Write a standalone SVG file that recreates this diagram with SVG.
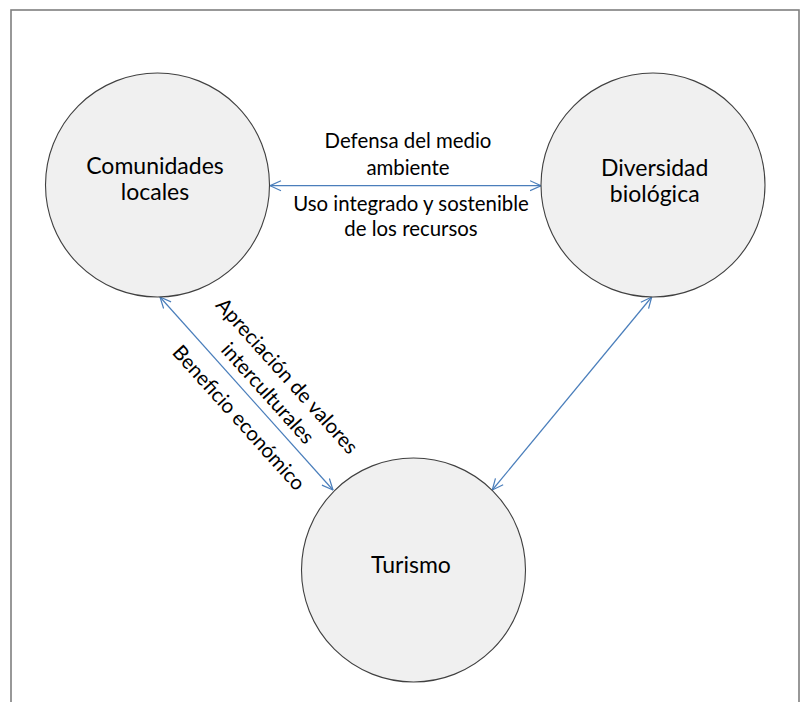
<svg xmlns="http://www.w3.org/2000/svg" width="801" height="702" viewBox="0 0 801 702">
<defs>
<style>
.frame{fill:#ffffff;stroke:#7f7f7f;stroke-width:1.6}
.node{fill:#f0f0f0;stroke:#404040;stroke-width:1.1}
.nt{font-family:Lato,"Liberation Sans",sans-serif;font-weight:400;font-size:23px;fill:#000;text-anchor:middle}
.lt{font-family:Lato,"Liberation Sans",sans-serif;font-weight:400;font-size:20.4px;fill:#000;text-anchor:middle}
.conn{stroke:#4a7ebb;stroke-width:1.2;fill:none;marker-start:url(#arr);marker-end:url(#arr)}
</style>
<marker id="arr" viewBox="0 0 12 12" refX="11.5" refY="6" markerWidth="12" markerHeight="12" markerUnits="userSpaceOnUse" orient="auto-start-reverse">
<path d="M0.5,1 L11.5,6 L0.5,11" fill="none" stroke="#4a7ebb" stroke-width="1.2"/>
</marker>
</defs>
<rect class="frame" x="11" y="10" width="788" height="720"/>
<g id="connectors">
<line class="conn" x1="270" y1="185.7" x2="541" y2="185.7"/>
<line class="conn" x1="160" y1="297" x2="333" y2="490"/>
<line class="conn" x1="651.7" y1="297" x2="492.3" y2="490"/>
</g>
<g id="labels">
<text class="lt" x="408" y="148">Defensa del medio</text>
<text class="lt" x="408" y="175">ambiente</text>
<text class="lt" x="411" y="210.5">Uso integrado y sostenible</text>
<text class="lt" x="411" y="236">de los recursos</text>
<g transform="translate(246.5,393.5) rotate(48.1)">
<text class="lt" x="14" y="-35">Apreciación de valores</text>
<text class="lt" x="14" y="-9">interculturales</text>
<text class="lt" x="13" y="29">Beneficio económico</text>
</g>
</g>
<g id="comunidades">
<circle class="node" cx="157.5" cy="185" r="112"/>
<text class="nt" x="155" y="174">Comunidades</text>
<text class="nt" x="155" y="200">locales</text>
</g>
<g id="diversidad">
<circle class="node" cx="653" cy="185" r="112"/>
<text class="nt" x="654.7" y="175.5">Diversidad</text>
<text class="nt" x="654.7" y="201.5">biológica</text>
</g>
<g id="turismo">
<circle class="node" cx="413.5" cy="570" r="112"/>
<text class="nt" x="411" y="573">Turismo</text>
</g>
</svg>
